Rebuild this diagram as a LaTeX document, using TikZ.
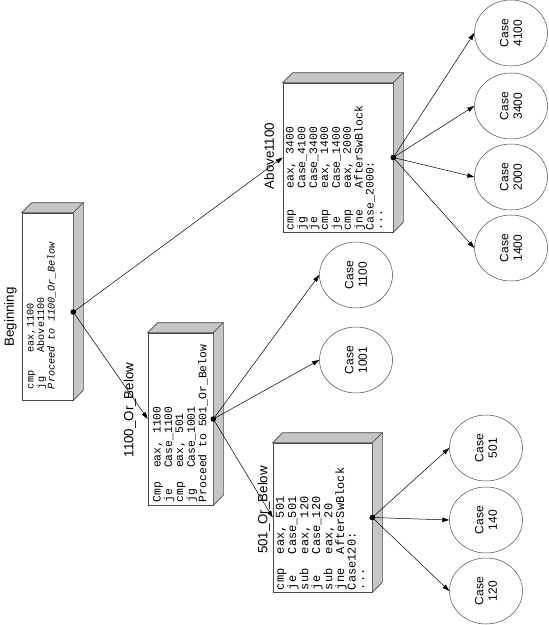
\documentclass[tikz,border=0pt]{standalone}
\usepackage{fontspec}
\setmainfont{Liberation Sans}
\setmonofont{Liberation Mono}
\usepackage{tikz}
\usetikzlibrary{shapes.geometric, arrows.meta, calc}
\definecolor{slabgray}{HTML}{C6C6C6}
\definecolor{rimgray}{HTML}{4A4A4A}

\tikzset{
  codebox/.style={draw=rimgray, fill=white, line width=0.6pt, inner sep=0pt},
  codetext/.style={rotate=90, anchor=north west, align=left, inner sep=0pt},
  casenode/.style={ellipse, draw=rimgray, line width=0.5pt, rotate=90, minimum width=66pt, minimum height=73pt, inner sep=0pt, align=center, font=\fontsize{12}{13.3}\selectfont},
  blocklabel/.style={rotate=90, inner sep=0pt, font=\fontsize{13.3}{14}\selectfont},
  jump/.style={line width=0.5pt, -{Triangle[length=7pt,width=4.5pt]}}
}

\newcommand{\slab}[1]{%
  \filldraw[fill=slabgray, draw=rimgray, line width=0.6pt] (#1.north west) -- ++(10,-10) -- ($(#1.north east)+(10,-10)$) -- (#1.north east) -- cycle;
  \filldraw[fill=slabgray, draw=rimgray, line width=0.6pt] (#1.north east) -- ++(10,-10) -- ($(#1.south east)+(10,-10)$) -- (#1.south east) -- cycle;}

\begin{document}
\begin{tikzpicture}[x=1pt, y=-1pt]
  \useasboundingbox (0,0) rectangle (549,625);

  \node[codebox, minimum width=51pt, minimum height=187pt] (begin) at (47.5,306.5) {};
  \node[codebox, minimum width=65pt, minimum height=172pt] (orbelow1100) at (180.5,419) {};
  \node[codebox, minimum width=99pt, minimum height=149pt] (orbelow501) at (322.5,517.5) {};
  \node[codebox, minimum width=110pt, minimum height=149pt] (above1100) at (338,157.5) {};
  \slab{begin}
  \slab{orbelow1100}
  \slab{orbelow501}
  \slab{above1100}

  \node[codetext, font=\fontsize{10.2}{8.3}\selectfont\ttfamily] (begintxt) at ($(begin.south west)+(5,-11)$)
    {cmp~~~eax,1100\\jg~~~~Above1100\\\textit{Proceed to 1100\_Or\_Below}};
  \node[codetext, font=\fontsize{11.4}{8.8}\selectfont\ttfamily] (orbelow1100txt) at ($(orbelow1100.south west)+(5,-3)$)
    {Cmp~~eax,~1100\\je~~~Case\_1100\\cmp~~eax,~501\\jg~~~Case\_1001\\Proceed to 501\_Or\_Below};
  \node[codetext, font=\fontsize{12}{8.5}\selectfont\ttfamily] (orbelow501txt) at ($(orbelow501.south west)+(3,-2)$)
    {cmp~~eax,~501\\je~~~Case\_501\\sub~~eax,~120\\je~~~Case\_120\\sub~~eax,~20\\jne~~AfterSwBlock\\Case120:\\...};
  \node[codetext, font=\fontsize{11.5}{8.5}\selectfont\ttfamily] (above1100txt) at ($(above1100.south west)+(3,-2)$)
    {cmp~~~eax,~3400\\jg~~~~Case\_4100\\je~~~~Case\_3400\\cmp~~~eax,~1400\\je~~~~Case\_1400\\cmp~~~eax,~2000\\jne~~~AfterSwBlock\\Case\_2000:\\...};

  \node[blocklabel] (beginlbl) at (10.5,317) {Beginning};
  \node[blocklabel] (orbelow1100lbl) at (130,410) {1100\_Or\_Below};
  \node[blocklabel] (orbelow501lbl) at (264,510) {501\_Or\_Below};
  \node[blocklabel] (above1100lbl) at (269,156) {Above1100};

  \node[casenode] (c1100) at (356,275) {Case\\1100};
  \node[casenode] (c1001) at (356,360) {Case\\1001};
  \node[casenode] (c4100) at (511,33) {Case\\4100};
  \node[casenode] (c3400) at (511,106) {Case\\3400};
  \node[casenode] (c2000) at (511,177) {Case\\2000};
  \node[casenode] (c1400) at (511,248) {Case\\1400};
  \node[casenode] (c501) at (486,448) {Case\\501};
  \node[casenode] (c140) at (486,520) {Case\\140};
  \node[casenode] (c120) at (486,591) {Case\\120};

  \coordinate (begindot) at ($(begin.east)+(0,5.5)$);
  \draw[jump] (begindot) -- (above1100.west);
  \draw[jump] (begindot) -- (orbelow1100.west);
  \draw[jump] (orbelow1100.east) -- (c1100.north);
  \draw[jump] (orbelow1100.east) -- (c1001.north);
  \draw[jump] (orbelow1100.east) -- (orbelow501.west);
  \draw[jump] (above1100.east) -- (c4100.north);
  \draw[jump] (above1100.east) -- (c3400.north);
  \draw[jump] (above1100.east) -- (c2000.north);
  \draw[jump] (above1100.east) -- (c1400.north);
  \draw[jump] (orbelow501.east) -- (c501.north);
  \draw[jump] (orbelow501.east) -- (c140.north);
  \draw[jump] (orbelow501.east) -- (c120.north);

  \fill (begindot) circle (2.8pt);
  \fill (orbelow1100.east) circle (2.8pt);
  \fill (orbelow501.east) circle (2.8pt);
  \fill (above1100.east) circle (2.8pt);
\end{tikzpicture}
\end{document}
